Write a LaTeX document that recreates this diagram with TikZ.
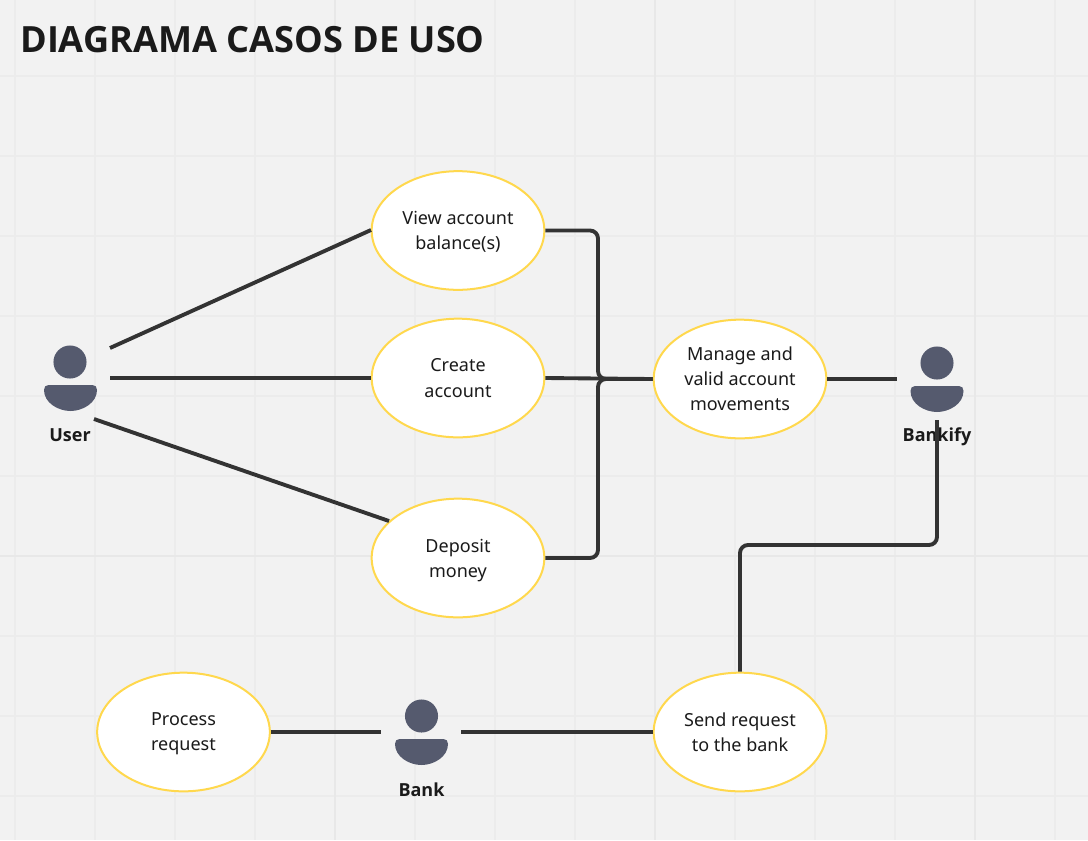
\documentclass[tikz,border=0pt]{standalone}
\usepackage{fontspec}
\setmainfont{Noto Sans}
\newfontfamily\labelfont{Open Sans}
\usepackage{xcolor}
\usepackage{tikz}
\usetikzlibrary{shapes.geometric}

\definecolor{paper}{HTML}{F2F2F2}
\definecolor{gridsoft}{HTML}{ECECEC}
\definecolor{gridhard}{HTML}{E8E8E8}
\definecolor{casering}{HTML}{FFD84D}
\definecolor{figure}{HTML}{555A6E}
\definecolor{wire}{HTML}{333333}
\definecolor{ink}{HTML}{1A1A1A}

\tikzset{
  usecase/.style={ellipse, draw=casering, line width=1.5pt, fill=white, text=ink,
    minimum width=129.5pt, minimum height=89pt, inner sep=0pt, align=center,
    font=\fontsize{13.5}{18.8}\selectfont, text depth=-0.75pt,
    execute at begin node=\rule[-4.5pt]{0pt}{14pt}},
  head/.style={circle, fill=figure, minimum size=24.8pt, inner sep=0pt},
  actorname/.style={text=ink, inner sep=0pt, font=\labelfont\fontsize{13.5}{16}\selectfont\bfseries},
  wireline/.style={draw=wire, line width=2.9pt},
  actorbody/.pic={
    \fill[figure] (-22,0) -- (22,0) .. controls (25,0) and (26.5,2) .. (26.5,5)
      .. controls (26.5,18) and (12,26) .. (0,26)
      .. controls (-12,26) and (-26.5,18) .. (-26.5,5)
      .. controls (-26.5,2) and (-25,0) .. (-22,0) -- cycle;
  }
}

\begin{document}
\begin{tikzpicture}[x=0.75pt,y=-0.75pt]
  \useasboundingbox (0,0) rectangle (1088,840);
  \fill[paper] (0,0) rectangle (1088,840);

  % grid
  \draw[gridsoft, line width=1.8pt]
    (15,0) -- (15,840) (95,0) -- (95,840) (175,0) -- (175,840) (255,0) -- (255,840)
    (415,0) -- (415,840) (495,0) -- (495,840) (575,0) -- (575,840) (735,0) -- (735,840)
    (815,0) -- (815,840) (895,0) -- (895,840) (1055,0) -- (1055,840)
    (0,76) -- (1088,76) (0,156) -- (1088,156) (0,236) -- (1088,236) (0,316) -- (1088,316)
    (0,396) -- (1088,396) (0,476) -- (1088,476) (0,636) -- (1088,636) (0,716) -- (1088,716)
    (0,796) -- (1088,796);
  \draw[gridhard, line width=1.8pt]
    (335,0) -- (335,840) (655,0) -- (655,840) (975,0) -- (975,840) (0,556) -- (1088,556);

  \node[anchor=west, inner sep=0pt, text=ink, font=\labelfont\fontsize{27.1}{30}\selectfont\bfseries] (title) at (20,40) {DIAGRAMA CASOS DE USO};

  % use cases
  \node[usecase] (view) at (458,230.5) {View account\\balance(s)};
  \node[usecase] (create) at (458,378) {Create\\account};
  \node[usecase] (deposit) at (458,558) {Deposit\\money};
  \node[usecase, text depth=0pt] (manage) at (740,379) {Manage and\\valid account\\movements};
  \node[usecase] (send) at (740,732) {Send request\\to the bank};
  \node[usecase] (process) at (183.5,732) {Process\\request};

  % actors
  \node[head] (userhead) at (70,362) {};
  \pic at (70.5,385) {actorbody};
  \node[actorname] (user) at (70,435.5) {User};

  \node[head] (bankifyhead) at (937,363) {};
  \pic at (937,386) {actorbody};
  \node[actorname] (bankify) at (937,436.5) {Bankify};

  \node[head] (bankhead) at (421.5,716) {};
  \pic at (421.5,739) {actorbody};
  \node[actorname] (bank) at (421.5,789.5) {Bank};

  % free ends
  \coordinate (userview) at (110,348);
  \coordinate (usercreate) at (110,378);
  \coordinate (userdeposit) at (94,419);
  \coordinate (viewend) at (371,230);
  \coordinate (depositend) at (389,521);
  \coordinate (merge) at (598,379);
  \coordinate (bankifyleft) at (897,379);
  \coordinate (bankifydown) at (937,420);
  \coordinate (bankleft) at (381,732);
  \coordinate (bankright) at (461,732);

  % connectors
  \draw[wireline] (userview) -- (viewend);
  \draw[wireline] (usercreate) -- (create.west);
  \draw[wireline, rounded corners=6pt] (view.east) -| (merge) -- (manage.west);
  \draw[wireline, rounded corners=6pt] (deposit.east) -| (merge) -- (manage.west);
  \draw[wireline] (userdeposit) -- (depositend);
  \draw[wireline] (create.east) -- (manage.west);
  \draw[wireline] (manage.east) -- (bankifyleft);
  \draw[wireline, rounded corners=6pt] (bankifydown) |- (740,545) -- (send.north);
  \draw[wireline] (process.east) -- (bankleft);
  \draw[wireline] (bankright) -- (send.west);
\end{tikzpicture}
\end{document}
